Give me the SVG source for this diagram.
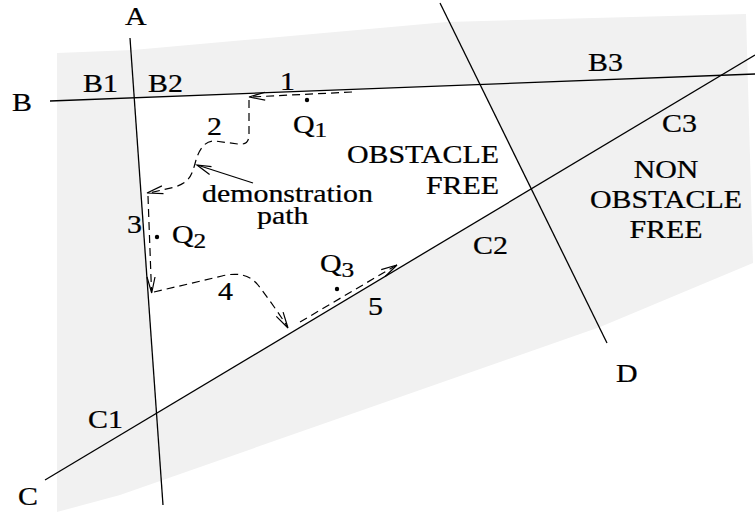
<svg xmlns="http://www.w3.org/2000/svg" width="755" height="512" viewBox="0 0 755 512">
<style>
.ln{stroke:#000;stroke-width:1.3;fill:none}
.dash{stroke:#000;stroke-width:1.2;fill:none;stroke-dasharray:8 5}
.ah{stroke:#000;stroke-width:1.2;fill:none}
text{font-family:"Liberation Serif","Times New Roman",serif;font-size:26px;fill:#000;stroke:#000;stroke-width:0.25}
.sub{font-size:22px}
.mid{text-anchor:middle}
.end{text-anchor:end}
</style>
<rect width="755" height="512" fill="#fff"/>
<g id="region">
<path d="M57,53 L133,50 L380,28 L447,22 L746,14 L753,263 L600,327 L400,397 L120,495 L57,512 Z" fill="#f1f1f1"/>
<path d="M134.2,97.8 L480,84.5 L531.3,188.9 L156.5,413.3 Z" fill="#fff"/>
</g>
<g id="lines">
<line id="lineA" class="ln" x1="130" y1="38" x2="163" y2="505"/>
<line id="lineB" class="ln" x1="50" y1="101" x2="755" y2="74"/>
<line id="lineC" class="ln" x1="45" y1="480" x2="755" y2="55"/>
<line id="lineD" class="ln" x1="440" y1="3" x2="607" y2="343"/>
</g>
<g id="path">
<path class="dash" d="M352,92 L251,97"/>
<path class="ah" d="M265,92.2 L249,97 L265.2,100.2"/>
<path class="dash" d="M249,100 L249,134 C249,142 246,145 238,144 L215,141 C205,140 199,150 196,160 C192,175 190,182 175,187 L149,193"/>
<path class="ah" d="M161.9,185.9 L147,193 L163.5,193.7"/>
<path class="dash" d="M148,196 L151.5,291"/>
<path class="ah" d="M147,277 L151.7,293 L155,277"/>
<path class="dash" d="M154,292 L222,276 C238,272 250,275 258,285 C268,298 278,312 287,326"/>
<path class="ah" d="M283.1,312.1 L288,328 L276.3,316.3"/>
<path class="dash" d="M300,322 L395,266"/>
<path class="ah" d="M381.2,269.7 L397,265 L385.2,276.5"/>
</g>
<g id="pointer">
<line class="ah" x1="253" y1="183" x2="198" y2="165.3"/>
<path class="ah" d="M211.5,166.7 L197,165 L209.6,174.6"/>
</g>
<g id="points">
<circle cx="307" cy="100" r="2.2"/>
<circle cx="157" cy="237" r="2.2"/>
<circle cx="337" cy="289" r="2.2"/>
</g>
<g id="labels">
<text transform="matrix(1.15,0,0,1,125,25)">A</text>
<text transform="matrix(1.15,0,0,1,12,111)">B</text>
<text transform="matrix(1.15,0,0,1,18,505)">C</text>
<text transform="matrix(1.15,0,0,1,616,382)">D</text>
<text transform="matrix(1.15,0,0,1,83,92)">B1</text>
<text transform="matrix(1.15,0,0,1,148,92)">B2</text>
<text transform="matrix(1.15,0,0,1,588,71)">B3</text>
<text transform="matrix(1.15,0,0,1,88,428)">C1</text>
<text transform="matrix(1.15,0,0,1,473,254)">C2</text>
<text transform="matrix(1.15,0,0,1,662,132)">C3</text>
<text transform="matrix(1.15,0,0,1,280,90)">1</text>
<text transform="matrix(1.15,0,0,1,207,135)">2</text>
<text transform="matrix(1.15,0,0,1,127,233)">3</text>
<text transform="matrix(1.15,0,0,1,218,300)">4</text>
<text transform="matrix(1.15,0,0,1,368,315)">5</text>
<text transform="matrix(1.15,0,0,1,293,133)">Q<tspan class="sub" dy="4">1</tspan></text>
<text transform="matrix(1.15,0,0,1,172,243)">Q<tspan class="sub" dy="5">2</tspan></text>
<text transform="matrix(1.15,0,0,1,320,272)">Q<tspan class="sub" dy="5">3</tspan></text>
<text transform="matrix(1.15,0,0,1,499,163)" class="end">OBSTACLE</text>
<text transform="matrix(1.15,0,0,1,499,194)" class="end">FREE</text>
<text transform="matrix(1.15,0,0,1,666,178)" class="mid">NON</text>
<text transform="matrix(1.15,0,0,1,666,208)" class="mid">OBSTACLE</text>
<text transform="matrix(1.15,0,0,1,666,238)" class="mid">FREE</text>
<text transform="matrix(1.15,0,0,1,202,202)">demonstration</text>
<text transform="matrix(1.15,0,0,1,257,224)">path</text>
</g>
</svg>
